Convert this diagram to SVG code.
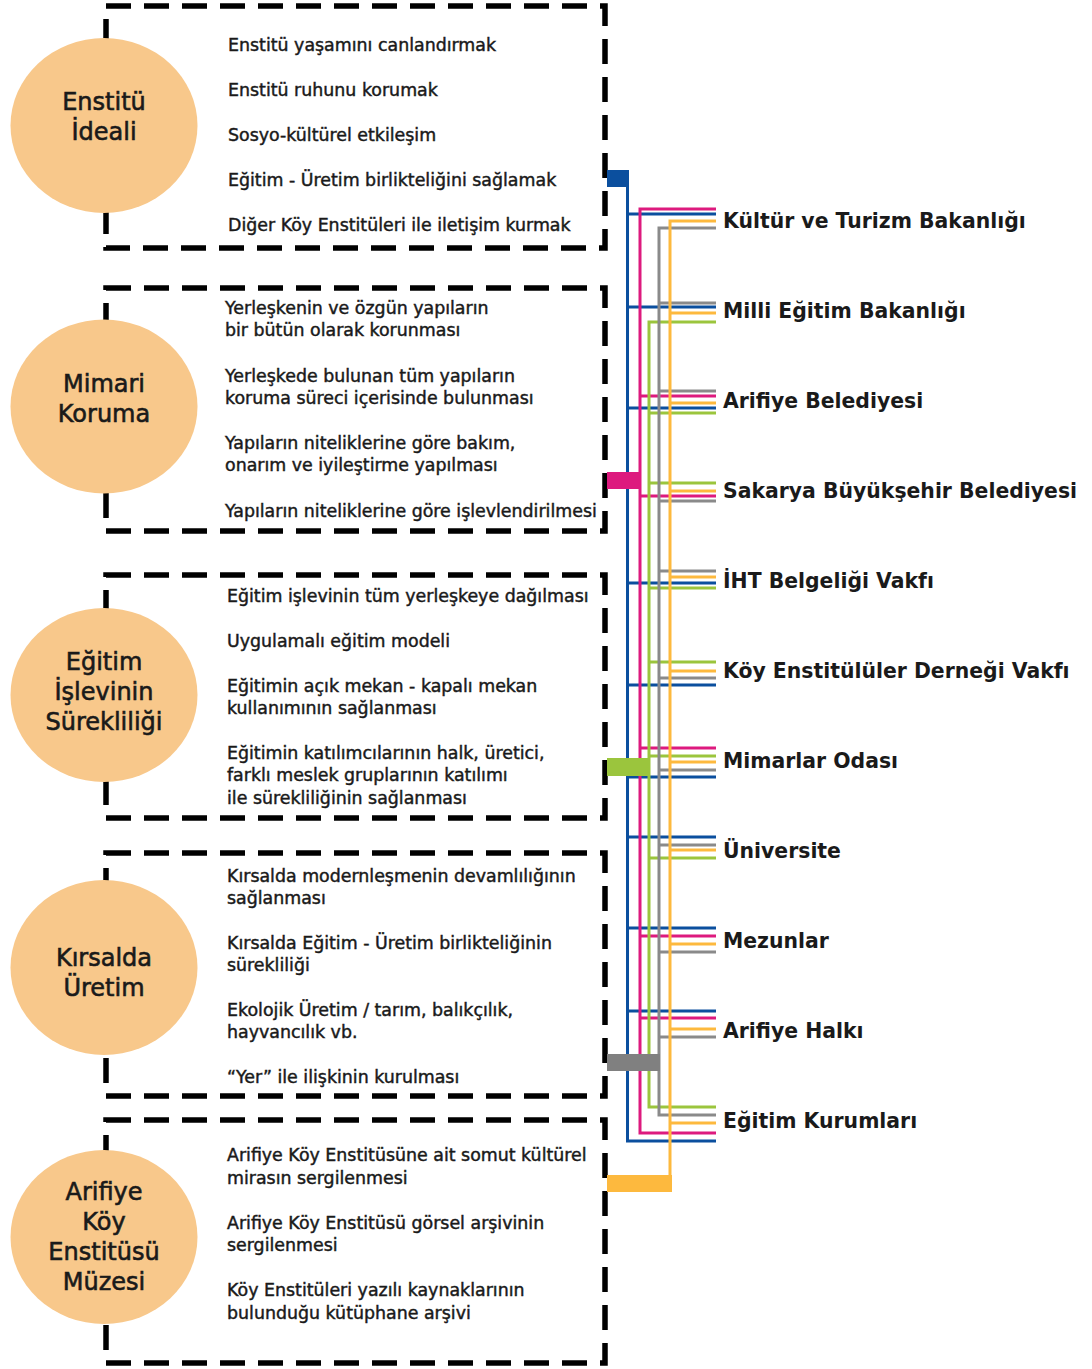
<svg xmlns="http://www.w3.org/2000/svg" width="1092" height="1369" viewBox="0 0 1092 1369">
<style>
.box{fill:none;stroke:#000;stroke-width:5.5;stroke-dasharray:25 13}
.circ{fill:#F8C88B}
.ct{font-family:"DejaVu Sans",sans-serif;font-size:24px;fill:#1a1a1a;stroke:#1a1a1a;stroke-width:0.6;text-anchor:middle}
.t{font-family:"DejaVu Sans",sans-serif;font-size:17.4px;fill:#1a1a1a;stroke:#1a1a1a;stroke-width:0.45}
.lab{font-family:"DejaVu Sans",sans-serif;font-weight:bold;font-size:20.4px;fill:#1a1a1a}
.ln{fill:none;stroke-width:3}
.b{stroke:#0B4F9E}.p{stroke:#DD1A7E}.g{stroke:#9BC53D}.gr{stroke:#8A8A8A}.o{stroke:#FDB93E}
</style>
<rect width="1092" height="1369" fill="#fff"/>

<g id="node-enstitu-ideali">
<rect class="box" x="106" y="6" width="499" height="242"/>
<ellipse class="circ" cx="104" cy="125.5" rx="93.5" ry="87.5"/>
<text class="ct" x="104" y="110">Enstitü</text>
<text class="ct" x="104" y="140">İdeali</text>
<text class="t" x="228" y="51">Enstitü yaşamını canlandırmak</text>
<text class="t" x="228" y="96">Enstitü ruhunu korumak</text>
<text class="t" x="228" y="141">Sosyo-kültürel etkileşim</text>
<text class="t" x="228" y="186">Eğitim - Üretim birlikteliğini sağlamak</text>
<text class="t" x="228" y="231">Diğer Köy Enstitüleri ile iletişim kurmak</text>
</g>

<g id="node-mimari-koruma">
<rect class="box" x="106" y="288" width="499" height="243"/>
<ellipse class="circ" cx="104" cy="406.5" rx="93.5" ry="87"/>
<text class="ct" x="104" y="392">Mimari</text>
<text class="ct" x="104" y="422">Koruma</text>
<text class="t" x="225" y="314">Yerleşkenin ve özgün yapıların</text>
<text class="t" x="225" y="336">bir bütün olarak korunması</text>
<text class="t" x="225" y="382">Yerleşkede bulunan tüm yapıların</text>
<text class="t" x="225" y="404">koruma süreci içerisinde bulunması</text>
<text class="t" x="225" y="449">Yapıların niteliklerine göre bakım,</text>
<text class="t" x="225" y="471">onarım ve iyileştirme yapılması</text>
<text class="t" x="225" y="517">Yapıların niteliklerine göre işlevlendirilmesi</text>
</g>

<g id="node-egitim-islevi">
<rect class="box" x="106" y="575" width="499" height="243"/>
<ellipse class="circ" cx="104" cy="695" rx="93.5" ry="87"/>
<text class="ct" x="104" y="670">Eğitim</text>
<text class="ct" x="104" y="700">İşlevinin</text>
<text class="ct" x="104" y="730">Sürekliliği</text>
<text class="t" x="227" y="602">Eğitim işlevinin tüm yerleşkeye dağılması</text>
<text class="t" x="227" y="647">Uygulamalı eğitim modeli</text>
<text class="t" x="227" y="692">Eğitimin açık mekan - kapalı mekan</text>
<text class="t" x="227" y="714">kullanımının sağlanması</text>
<text class="t" x="227" y="759">Eğitimin katılımcılarının halk, üretici,</text>
<text class="t" x="227" y="781">farklı meslek gruplarının katılımı</text>
<text class="t" x="227" y="804">ile sürekliliğinin sağlanması</text>
</g>

<g id="node-kirsalda-uretim">
<rect class="box" x="106" y="853" width="499" height="243"/>
<ellipse class="circ" cx="104" cy="967.5" rx="93.5" ry="87.5"/>
<text class="ct" x="104" y="966">Kırsalda</text>
<text class="ct" x="104" y="996">Üretim</text>
<text class="t" x="227" y="882">Kırsalda modernleşmenin devamlılığının</text>
<text class="t" x="227" y="904">sağlanması</text>
<text class="t" x="227" y="949">Kırsalda Eğitim - Üretim birlikteliğinin</text>
<text class="t" x="227" y="971">sürekliliği</text>
<text class="t" x="227" y="1016">Ekolojik Üretim / tarım, balıkçılık,</text>
<text class="t" x="227" y="1038">hayvancılık vb.</text>
<text class="t" x="227" y="1083">“Yer” ile ilişkinin kurulması</text>
</g>

<g id="node-muze">
<rect class="box" x="106" y="1120" width="499" height="243"/>
<ellipse class="circ" cx="104" cy="1237" rx="93.5" ry="87"/>
<text class="ct" x="104" y="1200">Arifiye</text>
<text class="ct" x="104" y="1230">Köy</text>
<text class="ct" x="104" y="1260">Enstitüsü</text>
<text class="ct" x="104" y="1290">Müzesi</text>
<text class="t" x="227" y="1161">Arifiye Köy Enstitüsüne ait somut kültürel</text>
<text class="t" x="227" y="1184">mirasın sergilenmesi</text>
<text class="t" x="227" y="1229">Arifiye Köy Enstitüsü görsel arşivinin</text>
<text class="t" x="227" y="1251">sergilenmesi</text>
<text class="t" x="227" y="1296">Köy Enstitüleri yazılı kaynaklarının</text>
<text class="t" x="227" y="1319">bulunduğu kütüphane arşivi</text>
</g>

<g id="connectors">
<path class="ln b" d="M627.5 186V1141H716M627.5 214H716M627.5 307H716M627.5 408H716M627.5 583H716M627.5 685H716M627.5 777H716M627.5 837H716M627.5 928H716M627.5 1011H716"/>
<rect x="607" y="170" width="22" height="17" fill="#0B4F9E"/>
<path class="ln p" d="M716 209H640V1133H716M640 396H716M640 496H716M640 748H716M640 936H716M640 1018H716"/>
<rect x="607" y="472" width="34" height="17" fill="#DD1A7E"/>
<path class="ln g" d="M716 322H649V1107H716M649 413H716M649 483H716M649 588H716M649 662H716M649 756H716M649 858H716"/>
<rect x="607" y="758" width="43" height="18" fill="#9BC53D"/>
<path class="ln gr" d="M716 228H659V1115H716M659 303H716M659 391H716M659 501H716M659 571H716M659 678H716M659 770H716M659 845H716M659 952H716M659 1037H716"/>
<rect x="607" y="1054" width="53" height="17" fill="#808080"/>
<path class="ln o" d="M716 221H670V1192M670 313H716M670 403H716M670 491H716M670 577H716M670 671H716M670 762H716M670 850H716M670 944H716M670 1029H716M670 1123H716"/>
<rect x="607" y="1175" width="65" height="17" fill="#FDB93E"/>
</g>

<g id="node-kultur-turizm"><text class="lab" x="723" y="228">Kültür ve Turizm Bakanlığı</text></g>
<g id="node-meb"><text class="lab" x="723" y="318">Milli Eğitim Bakanlığı</text></g>
<g id="node-arifiye-belediyesi"><text class="lab" x="723" y="408">Arifiye Belediyesi</text></g>
<g id="node-sakarya"><text class="lab" x="723" y="498">Sakarya Büyükşehir Belediyesi</text></g>
<g id="node-iht"><text class="lab" x="723" y="588">İHT Belgeliği Vakfı</text></g>
<g id="node-koy-enstitululer"><text class="lab" x="723" y="678">Köy Enstitülüler Derneği Vakfı</text></g>
<g id="node-mimarlar"><text class="lab" x="723" y="768">Mimarlar Odası</text></g>
<g id="node-universite"><text class="lab" x="723" y="858">Üniversite</text></g>
<g id="node-mezunlar"><text class="lab" x="723" y="948">Mezunlar</text></g>
<g id="node-arifiye-halki"><text class="lab" x="723" y="1038">Arifiye Halkı</text></g>
<g id="node-egitim-kurumlari"><text class="lab" x="723" y="1128">Eğitim Kurumları</text></g>
</svg>
